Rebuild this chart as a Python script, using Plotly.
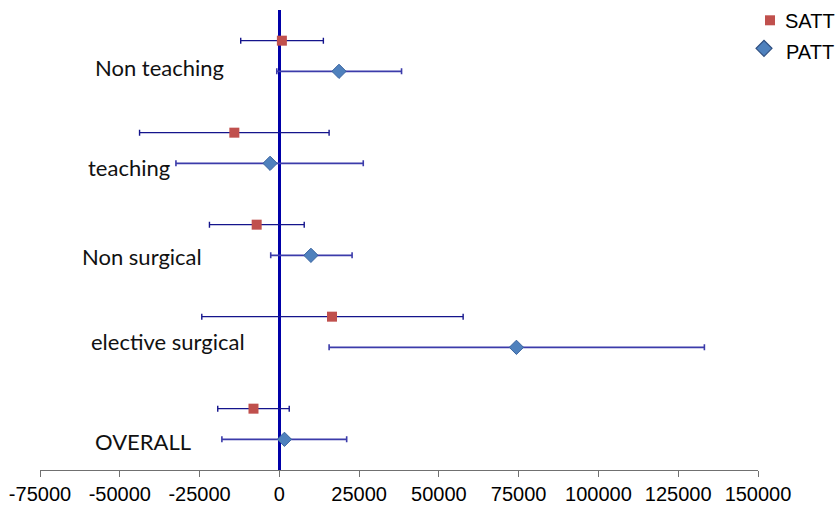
import plotly.graph_objects as go

# Groups listed top to bottom
groups = ["Non teaching", "teaching", "Non surgical", "elective surgical", "OVERALL"]

satt_est = [800, -14100, -7100, 16500, -8100]
satt_lo = [-12100, -43800, -21900, -24300, -19300]
satt_hi = [13800, 15600, 7800, 57600, 3100]

patt_est = [18700, -2900, 9900, 74300, 1600]
patt_lo = [-800, -32400, -2700, 15600, -18000]
patt_hi = [38300, 26300, 22800, 133200, 21100]

x_ticks = [-75000, -50000, -25000, 0, 25000, 50000, 75000, 100000, 125000, 150000]

series_names = ["SATT", "PATT"]
series_colors = ["#C0504D", "#4F81BD"]

# layout constants (label placement in paper / data units)
label_x_paper = [0.0744, 0.0641, 0.0557, 0.0682, 0.0744]
label_y_offset = [0.13, -0.13, -0.03, 0.2, -0.07]

n = len(groups)
# vertical positions: bottom group index 0
patt_y = [1 + 3 * (n - 1 - i) for i in range(n)]
satt_y = [p + 1 for p in patt_y]

fig = go.Figure()

fig.add_trace(go.Scatter(
    x=satt_est, y=satt_y, mode="markers", name=series_names[0],
    marker=dict(symbol="square", size=10, color=series_colors[0],
                line=dict(width=0)),
    error_x=dict(type="data", symmetric=False,
                 array=[h - e for h, e in zip(satt_hi, satt_est)],
                 arrayminus=[e - l for l, e in zip(satt_lo, satt_est)],
                 color="#14148C", thickness=1.4, width=3),
))
fig.add_trace(go.Scatter(
    x=patt_est, y=patt_y, mode="markers", name=series_names[1],
    marker=dict(symbol="diamond", size=11, color=series_colors[1],
                line=dict(width=1, color="#3A64A0")),
    error_x=dict(type="data", symmetric=False,
                 array=[h - e for h, e in zip(patt_hi, patt_est)],
                 arrayminus=[e - l for l, e in zip(patt_lo, patt_est)],
                 color="#3B3BAA", thickness=1.6, width=3),
))

annotations = []
for i, g in enumerate(groups):
    annotations.append(dict(
        text=g, xref="paper", yref="y", x=label_x_paper[i],
        y=patt_y[i] + label_y_offset[i], xanchor="left", yanchor="middle",
        showarrow=False, font=dict(family="Lato", size=22, color="#111111"),
    ))

# manual legend (outside the plot area, without reserving margin)
PW, PH, L, T = 718.0, 460.0, 40.0, 10.7
def px_to_paper(px, py):
    return (px - L) / PW, 1 - (py - T) / PH

sx, sy = px_to_paper(770, 21)
dx, dy = px_to_paper(764, 49)
tx1, ty1 = px_to_paper(783, 22)
tx2, ty2 = px_to_paper(784, 53)

shapes = [
    dict(type="rect", xref="paper", yref="paper", xsizemode="pixel",
         ysizemode="pixel", xanchor=sx, yanchor=sy, x0=-5, x1=5, y0=-5, y1=5,
         fillcolor=series_colors[0], line=dict(width=0)),
    dict(type="path", xref="paper", yref="paper", xsizemode="pixel",
         ysizemode="pixel", xanchor=dx, yanchor=dy,
         path="M -8 0 L 0 8 L 8 0 L 0 -8 Z",
         fillcolor=series_colors[1], line=dict(width=1.2, color="#2F4F80")),
]
annotations.append(dict(text=series_names[0], xref="paper", yref="paper",
                        x=tx1, y=ty1, xanchor="left", yanchor="middle",
                        showarrow=False,
                        font=dict(family="Liberation Sans", size=20, color="black")))
annotations.append(dict(text=series_names[1], xref="paper", yref="paper",
                        x=tx2, y=ty2, xanchor="left", yanchor="middle",
                        showarrow=False,
                        font=dict(family="Liberation Sans", size=20, color="black")))

fig.update_layout(
    width=839, height=510,
    margin=dict(l=40, r=81, t=10, b=40),
    paper_bgcolor="white", plot_bgcolor="white",
    showlegend=False,
    annotations=annotations,
    shapes=shapes,
    xaxis=dict(range=[-75000, 150000], tickvals=x_ticks,
               ticktext=[str(t) for t in x_ticks], automargin=False,
               showgrid=False, zeroline=True, zerolinecolor="#0000A8",
               zerolinewidth=3, showline=True, linecolor="#707070",
               linewidth=1, ticks="outside", ticklen=6, tickcolor="#707070",
               tickfont=dict(family="Liberation Sans", size=20, color="black")),
    yaxis=dict(range=[0, 15], showgrid=False, zeroline=False, automargin=False,
               showticklabels=False, showline=False, ticks=""),
)

fig.write_html(
    "out.html",
    config={"displayModeBar": False},
    post_script="document.body.style.margin='0px';document.body.style.overflow='hidden';",
)
